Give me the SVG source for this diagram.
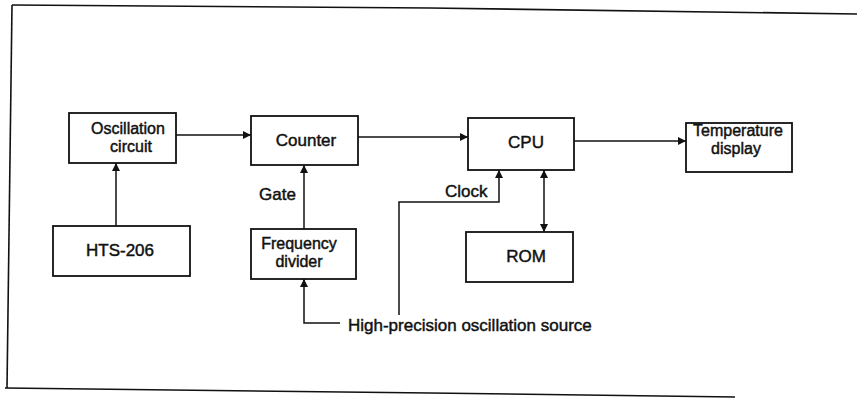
<svg xmlns="http://www.w3.org/2000/svg" width="857" height="399" viewBox="0 0 857 399">
<style>
.box{fill:#fff;stroke:#111;stroke-width:1.8}
.ln{fill:none;stroke:#111;stroke-width:1.5}
.frame{fill:none;stroke:#111;stroke-width:1.6}
text{font-family:"Liberation Sans",Arial,sans-serif;font-size:17px;fill:#111;stroke:#111;stroke-width:0.45}
.m{text-anchor:middle}
.two{font-size:16px}
</style>
<defs>
<marker id="ah" viewBox="0 0 10 10" refX="10" refY="5" markerWidth="8" markerHeight="9" markerUnits="userSpaceOnUse" orient="auto-start-reverse">
<path d="M0,0 L10,5 L0,10 z" fill="#111"/>
</marker>
</defs>
<rect width="857" height="399" fill="#fff"/>
<g id="frame">
<polyline class="frame" points="12,5 430,8 857,14"/>
<polyline class="frame" points="12,5 7,388"/>
<polyline class="frame" points="5,388 430,393 735,397"/>
</g>
<g id="connectors">
<line class="ln" x1="176" y1="135" x2="251" y2="135" marker-end="url(#ah)"/>
<line class="ln" x1="358" y1="137" x2="468" y2="137" marker-end="url(#ah)"/>
<line class="ln" x1="574" y1="141" x2="686" y2="141" marker-end="url(#ah)"/>
<line class="ln" x1="116" y1="226" x2="116" y2="163" marker-end="url(#ah)"/>
<line class="ln" x1="304" y1="229" x2="304" y2="165" marker-end="url(#ah)"/>
<polyline class="ln" points="340,323 304,323 304,279" marker-end="url(#ah)"/>
<polyline class="ln" points="399,315 399,202 499,202 499,170" marker-end="url(#ah)"/>
<line class="ln" x1="544" y1="170" x2="544" y2="232" marker-start="url(#ah)" marker-end="url(#ah)"/>
<text x="259" y="200">Gate</text>
<text x="445" y="197">Clock</text>
<text x="348" y="331">High-precision oscillation source</text>
</g>
<g id="osc">
<rect class="box" x="69" y="113" width="107" height="50"/>
<text class="m two" x="128" y="134">Oscillation</text>
<text class="m two" x="131" y="152">circuit</text>
</g>
<g id="counter">
<rect class="box" x="251" y="116" width="107" height="49"/>
<text class="m" x="306" y="146">Counter</text>
</g>
<g id="cpu">
<rect class="box" x="468" y="118" width="106" height="52"/>
<text class="m" x="526" y="148">CPU</text>
</g>
<g id="temp">
<rect class="box" x="686" y="123" width="106" height="49"/>
<text class="m two" x="738" y="136">Temperature</text>
<text class="m two" x="736" y="154">display</text>
</g>
<g id="hts">
<rect class="box" x="53" y="226" width="137" height="50"/>
<text class="m" x="120" y="256">HTS-206</text>
</g>
<g id="divider">
<rect class="box" x="251" y="229" width="105" height="50"/>
<text class="m two" x="299" y="249">Frequency</text>
<text class="m two" x="299" y="267">divider</text>
</g>
<g id="rom">
<rect class="box" x="466" y="232" width="107" height="50"/>
<text class="m" x="526" y="262">ROM</text>
</g>
</svg>
